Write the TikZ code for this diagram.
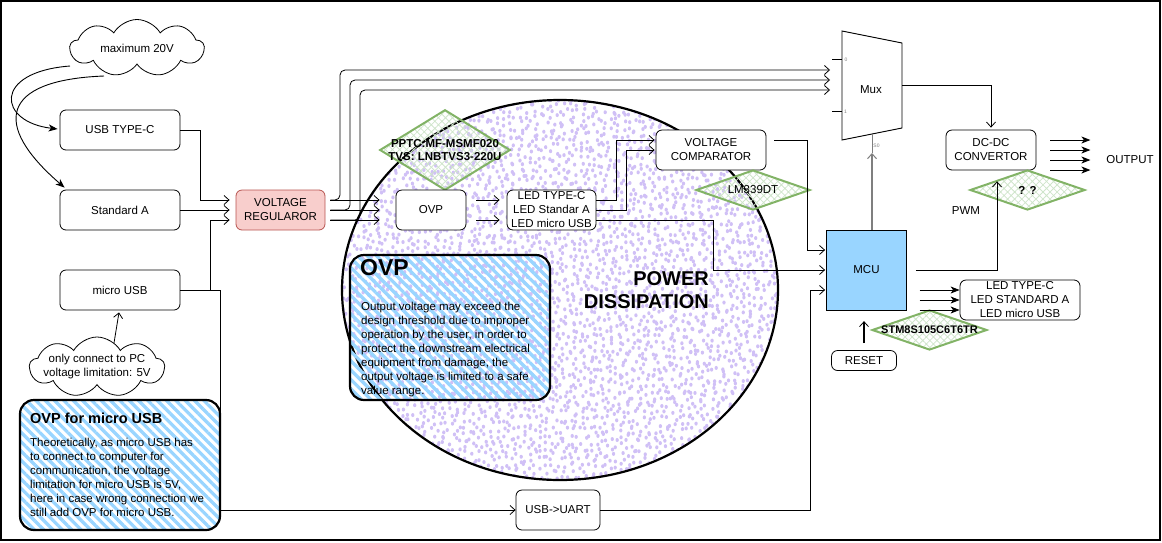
\documentclass[tikz,border=0pt]{standalone}
\usepackage{fontspec}
\setmainfont{Liberation Sans}
\usetikzlibrary{arrows.meta,shapes.geometric,shapes.symbols,patterns.meta,calc}
\definecolor{pinkf}{HTML}{F8CECC}
\definecolor{pinkd}{HTML}{B85450}
\definecolor{mcub}{HTML}{99D5FF}
\definecolor{stripe}{HTML}{99D5FF}
\definecolor{gbord}{HTML}{82B366}
\definecolor{ghatch}{HTML}{CFE5CB}
\definecolor{dotc}{HTML}{D0C0F6}
\definecolor{gline}{HTML}{7F7F7F}
\tikzset{
  every node/.style={font=\fontsize{11.5}{14}\selectfont, inner sep=0pt},
  box/.style={draw, rounded corners=6pt, line width=0.8pt, fill=white, align=center},
  arr/.style={line width=0.8pt, -{Straight Barb[length=5pt,width=9pt,line width=0.8pt]}},
  farr/.style={line width=0.9pt, -{Stealth[length=9pt,width=7pt,inset=2.5pt]}},
  garr/.style={draw=gline, line width=1.1pt, -{Straight Barb[length=5pt,width=9pt,line width=1pt]}},
  gdia/.style={diamond, draw=gbord, line width=2pt, pattern={Hatch[angle=45,distance=5pt,line width=0.8pt]}, pattern color=ghatch},
  hbox/.style={draw, line width=2.2pt, rounded corners=14pt, pattern={Lines[angle=-45,distance=6.6pt,line width=3.3pt]}, pattern color=stripe},
  cl/.style={cloud, cloud puffs=9, cloud puff arc=120, cloud ignores aspect, draw, line width=0.8pt, fill=white},
  boldlab/.style={font=\fontsize{11.5}{13.5}\selectfont\bfseries, align=center},
  tiny/.style={font=\fontsize{5}{6}\selectfont, text=gline},
}
\begin{document}
\begin{tikzpicture}[x=1pt,y=-1pt]
\useasboundingbox (0,0) rectangle (1162,542);
% power dissipation ellipse
\fill[white] (560,290) ellipse [x radius=218pt, y radius=190pt];
\begin{scope}
\clip (560,290) ellipse [x radius=218pt, y radius=190pt];
\pgfmathsetseed{4321}
\foreach \gy in {0,...,66}{
  \pgfmathsetmacro\rowoff{3.3*mod(\gy,2)}
  \foreach \gx in {0,...,67}{
    \pgfmathsetmacro\dotx{341+\rowoff+6.6*\gx+3.4*rand}
    \pgfmathsetmacro\doty{100+5.8*\gy+3.0*rand}
    \fill[dotc] (\dotx,\doty) ellipse [x radius=1.65pt, y radius=2pt];
  }
}
\end{scope}
\draw[line width=2.2pt] (560,290) ellipse [x radius=218pt, y radius=190pt];
\node[anchor=north east, align=right, font=\fontsize{20}{23}\selectfont\bfseries] (pd) at (709,271.5) {POWER\\DISSIPATION};

% left column
\node[cl, minimum width=134pt, minimum height=57pt, label=center:maximum 20V] (cl1) at (137,48) {};
\node[box, minimum width=120pt, minimum height=40pt] (usbc) at (120,130) {USB TYPE-C};
\node[box, minimum width=120pt, minimum height=40pt] (stda) at (120,210) {Standard A};
\node[box, minimum width=120pt, minimum height=40pt] (musb) at (120,290) {micro USB};
\node[cl, minimum width=135pt, minimum height=60pt, label={[align=center]center:{only connect to PC\\voltage limitation: 5V}}] (cl2) at (97,367) {};
\node[hbox, minimum width=200pt, minimum height=130pt] (ovpm) at (120,465) {};
\node[anchor=north west, font=\fontsize{14.5}{17}\selectfont\bfseries] (ovpmh) at (30,412.5) {OVP for micro USB};
\node[anchor=north west, align=left] (ovpmt) at (30,437.5) {Theoretically, as micro USB has\\to connect to computer for\\communication, the voltage\\limitation for micro USB is 5V,\\here in case wrong connection we\\still add OVP for micro USB.};

% middle
\node[box, fill=pinkf, draw=pinkd, minimum width=89pt, minimum height=40pt] (vr) at (280.5,210) {VOLTAGE\\REGULAROR};
\node[gdia, minimum width=130pt, minimum height=80pt, label={[boldlab]center:{PPTC:MF-MSMF020\\TVS: LNBTVS3-220U}}] (pptc) at (445,150) {};
\node[box, minimum width=70pt, minimum height=40pt] (ovp) at (431,210) {OVP};
\node[box, minimum width=89pt, minimum height=40pt] (led1) at (551.5,210) {LED TYPE-C\\LED Standar A\\LED micro USB};
\node[box, minimum width=110pt, minimum height=40pt] (vcomp) at (711,150) {VOLTAGE\\COMPARATOR};
\node[gdia, minimum width=114pt, minimum height=40pt, label=center:LM339DT] (lm) at (753,190) {};
\node[hbox, minimum width=200pt, minimum height=145pt] (ovpbox) at (450,327.5) {};
\node[anchor=north west, font=\fontsize{23}{26}\selectfont\bfseries] (ovph) at (360,259.5) {OVP};
\node[anchor=north west, align=left] (ovpt) at (361,302) {Output voltage may exceed the\\design threshold due to improper\\operation by the user, in order to\\protect the downstream electrical\\equipment from damage, the\\output voltage is limited to a safe\\value range.};
\node[box, minimum width=84pt, minimum height=40pt] (uart) at (558,510) {USB->UART};

% mux
\draw[line width=0.9pt, fill=white] (842,31) -- (902,43) -- (902,128) -- (842,140) -- cycle;
\node (mux) at (871,90) {Mux};
\draw[line width=0.8pt] (832,59) -- (842,59);
\draw[line width=0.8pt] (832,111) -- (842,111);
\node[tiny] (mux0) at (846,60) {0};
\node[tiny] (mux1) at (845.5,112) {1};
\node[tiny] (muxs0) at (876.5,146) {S0};
\draw[draw=gline, line width=0.9pt] (872,134) -- (872,153);
\coordinate (muxa) at (830,70);
\coordinate (muxb) at (830,80);
\coordinate (muxc) at (830,90);
\coordinate (muxo) at (902,85);
\coordinate (muxs) at (872,153);

% right
\node[box, minimum width=90pt, minimum height=40pt] (dcdc) at (991,150) {DC-DC\\CONVERTOR};
\node[gdia, minimum width=115pt, minimum height=40pt, label={[boldlab]center:? ?}] (qq) at (1027.5,190) {};
\node (outp) at (1130,160) {OUTPUT};
\node (pwm) at (966,211) {PWM};
\node[draw, fill=mcub, line width=0.8pt, minimum width=80pt, minimum height=80pt] (mcu) at (866.5,270) {MCU};
\node[box, minimum width=120pt, minimum height=40pt] (led2) at (1020,300) {LED TYPE-C\\LED STANDARD A\\LED micro USB};
\node[gdia, minimum width=115pt, minimum height=40pt, label={[boldlab, font=\fontsize{11}{13}\selectfont\bfseries]center:STM8S105C6T6TR}] (stm) at (929.5,330) {};
\node[box, minimum width=65pt, minimum height=20pt] (reset) at (864,360.5) {RESET};

% connectors
\draw[farr] ($(cl1.center)+(-67,18)$) .. controls (-8,72) and (-2,122) .. ($(usbc.west)+(-2,-1)$);
\draw[farr] ($(cl1.center)+(-33,28)$) .. controls (0,80) and (-8,125) .. ($(stda.north west)+(5,-2)$);
\draw[arr] ($(cl2.center)+(17,-24)$) -- ($(musb.south)+(-1,2)$);
\draw[arr] (usbc.east) -- (200,130) -- (200,200) -- ($(vr.west)+(-6,-10)$);
\draw[arr] (stda.east) -- ($(vr.west)+(-6,0)$);
\draw[arr] (musb.east) -- (210,290) -- (210,220) -- ($(vr.west)+(-6,10)$);
\draw[arr] (musb.east) -- (220,290) -- (220,510) -- (uart.west);
\foreach \dy in {-10,0,10}{
  \draw[arr] ($(vr.east)+(5,\dy)$) -- ($(ovp.west)+(-16,\dy)$);
}
\draw[arr, rounded corners=5pt] ($(vr.east)+(5,-10)$) -- (340,200) -- (340,70) -- (muxa);
\draw[arr, rounded corners=5pt] ($(vr.east)+(5,0)$) -- (350,210) -- (350,80) -- (muxb);
\draw[arr, rounded corners=5pt] ($(vr.east)+(5,10)$) -- (360,220) -- (360,90) -- (muxc);
\draw[arr] ($(ovp.east)+(10,-10)$) -- ($(led1.west)+(-7,-10)$);
\draw[arr] ($(ovp.east)+(10,10)$) -- ($(led1.west)+(-7,10)$);
\draw[arr] ($(led1.east)+(0,-10)$) -- (616,200) -- (616,140) -- ($(vcomp.west)+(-1,-10)$);
\draw[arr] (led1.east) -- (626,210) -- (626,150) -- ($(vcomp.west)+(-1,0)$);
\draw[arr] ($(led1.east)+(0,10)$) -- (713,220) -- (713,270) -- ($(mcu.west)+(-1,0)$);
\draw[arr] ($(vcomp.east)+(8,-10)$) -- (807,140) -- (807,250) -- ($(mcu.west)+(-1,-20)$);
\draw[arr] (uart.east) -- (810,510) -- (810,290) -- ($(mcu.west)+(-1,20)$);
\draw[garr] ($(mcu.north)+(5.5,0)$) -- (muxs);
\draw[arr] (muxo) -- (991,85) -- ($(dcdc.north)+(0,-2)$);
\draw[arr] ($(mcu.east)+(9,0)$) -- (997,270) -- ($(dcdc.south)+(6,11)$);
\foreach \dy in {-10,0,10,20}{
  \draw[farr] ($(dcdc.east)+(14,\dy)$) -- ($(dcdc.east)+(54,\dy)$);
}
\foreach \dy in {-10,0,10}{
  \draw[farr] ($(led2.west)+(-40,\dy)$) -- ($(led2.west)+(0,\dy)$);
}
\draw[arr, line width=1.1pt] ($(reset.north)+(0,-7)$) -- ($(reset.north)+(0,-29)$);

% frame
\draw[line width=1.2pt] (1,1) rectangle (1160,540);
\end{tikzpicture}
\end{document}
